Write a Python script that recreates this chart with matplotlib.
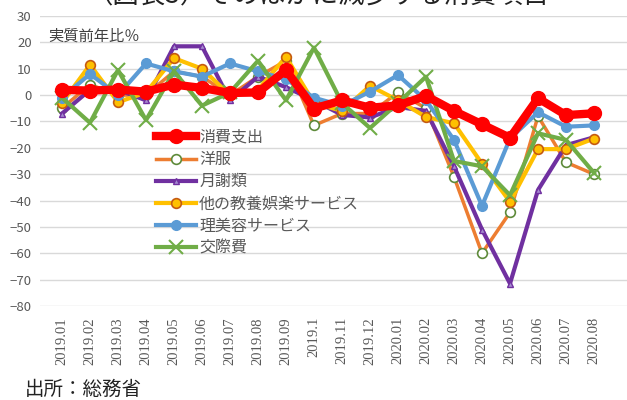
import matplotlib
matplotlib.use("Agg")
import matplotlib.pyplot as plt

plt.rcParams['font.family'] = ['Noto Sans CJK JP', 'DejaVu Sans']

months = ["2019.01", "2019.02", "2019.03", "2019.04", "2019.05", "2019.06",
          "2019.07", "2019.08", "2019.09", "2019.1", "2019.11", "2019.12",
          "2020.01", "2020.02", "2020.03", "2020.04", "2020.05", "2020.06",
          "2020.07", "2020.08"]

shohi = [2.0, 1.7, 2.1, 1.3, 4.0, 2.7, 0.8, 1.0, 9.5, -5.1, -2.0, -4.8,
         -3.9, -0.3, -6.0, -11.1, -16.2, -1.2, -7.6, -6.9]
yofuku = [-5, 4, 0, 0, 9, 7, 0, 7, 13, -11.5, -7, -7,
          1, -5, -31, -60, -44.5, -8, -25.5, -30]
gessha = [-7, 2, 2, -2, 18.5, 18.5, -2, 7, 3, -2, -7.5, -8.5,
          -4.5, -6, -27, -51, -71.5, -36, -19, -16]
kyoyo = [-3, 11.5, -2.7, 1, 14, 10, 0, 2, 14.5, -3, -6, 3.5,
         -2, -8.3, -10.7, -26, -40.5, -20.5, -20.5, -16.5]
biyo = [-1, 8, 0, 12, 9, 7, 12, 9, 6, -1, -4, 1.3,
        7.6, -2, -17, -42, -16.5, -6.5, -12, -11.5]
kosai = [-1, -10.5, 9.5, -9.5, 9, -4, 1, 13, -2, 18, -3, -12.5,
         -3, 7, -25, -27, -38, -14.5, -17, -29.5]

names = ["消費支出", "洋服", "月謝類", "他の教養娯楽サービス", "理美容サービス", "交際費"]

fig = plt.figure(figsize=(6.27, 4.0), dpi=100)
ax = fig.add_axes([40 / 627, 1 - 306 / 400, 1 - 40 / 627, (306 - 16) / 400])

x = list(range(len(months)))
ax.plot(x, shohi, color='#FF0000', lw=6, marker='o', ms=10, mfc='#FF0000', mec='#FF0000',
        label=names[0], zorder=3)
ax.plot(x, yofuku, color='#ED7D31', lw=2.5, marker='o', ms=7, mfc='white', mec='#5E8A3A',
        mew=1.2, label=names[1], zorder=2)
ax.plot(x, gessha, color='#7030A0', lw=3, marker='^', ms=5, mfc='#A58BD0', mec='#7030A0',
        label=names[2], zorder=2)
ax.plot(x, kyoyo, color='#FFC000', lw=3, marker='o', ms=7, mfc='#FFC000', mec='#C55A11',
        mew=1.2, label=names[3], zorder=2)
ax.plot(x, biyo, color='#5B9BD5', lw=3, marker='o', ms=7, mfc='#5B9BD5', mec='#5B9BD5',
        label=names[4], zorder=2)
ax.plot(x, kosai, color='#70AD47', lw=3, marker='x', ms=10, mew=1.5, mec='#70AD47',
        label=names[5], zorder=2)

ax.set_xlim(-22 / 28, 19 + 33 / 28)
ax.set_ylim(-80, 30)
ax.set_yticks(range(-80, 31, 10))
ax.set_xticks(x)
ax.set_xticklabels(months, rotation=90, family='Liberation Serif', fontsize=10.5, color='#595959')
ax.tick_params(axis='y', labelsize=9.5, colors='#595959', length=0, pad=6)
ax.tick_params(axis='x', length=0, pad=8)
ax.grid(axis='y', color='#D9D9D9', lw=1)
ax.set_axisbelow(True)
for s in ax.spines.values():
    s.set_visible(False)

ax.text(8 / 587, 0.93, "実質前年比％", transform=ax.transAxes, fontsize=11,
        color='#404040', va='center', ha='left')

leg = ax.legend(loc='upper left', bbox_to_anchor=(148 / 627, 1 - 121 / 400),
                bbox_transform=fig.transFigure, frameon=False, fontsize=11.5,
                handlelength=2.5, handletextpad=0.2, labelspacing=0.32, borderpad=0)
for t in leg.get_texts():
    t.set_color('#595959')

fig.text(318 / 627, 1 + 4 / 400, "（図表3）そのほかに減少する消費項目", fontsize=19,
         ha='center', va='center', color='#222222')
fig.text(25 / 627, 1 - 389 / 400, "出所：総務省", fontsize=14, ha='left', va='center',
         color='#222222')

fig.savefig("out.png", dpi=100)
